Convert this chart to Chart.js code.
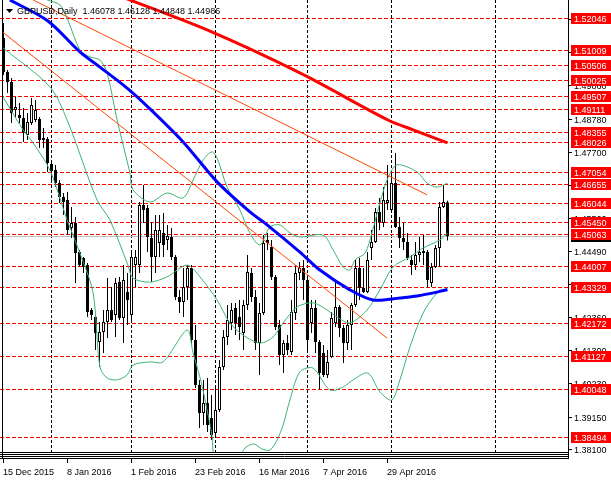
<!DOCTYPE html>
<html>
<head>
<meta charset="utf-8">
<script src="https://cdn.jsdelivr.net/npm/chart.js@4.4.1/dist/chart.umd.min.js"></script>
<style>
    html, body { margin: 0; padding: 0; background: #fff; }
    #wrap { width: 611px; height: 482px; }
</style>
</head>
<body>
<div id="wrap"><canvas id="chart" width="611" height="482"></canvas></div>
<script>
// GBPUSD daily candles, one entry per bar (bar 0 = 15 Dec 2015)
var open = [
    1.51390,1.50291,1.49968,1.49063,1.48901,1.48804,1.48255,1.48643,1.48740,1.48772,
    1.48093,1.48126,1.47318,1.47124,1.46703,1.46251,1.46154,1.45249,1.45411,1.44473,
    1.44279,1.44053,1.42599,1.42373,1.41565,1.41888,1.42211,1.42599,1.42437,1.43504,
    1.42340,1.43181,1.42437,1.44053,1.44053,1.45992,1.45895,1.44926,1.44312,1.44764,
    1.45087,1.44861,1.44958,1.44312,1.43019,1.42857,1.43342,1.43956,1.41629,1.40175,
    1.39270,1.39593,1.39108,1.38623,1.39367,1.40757,1.41726,1.42179,1.42663,1.42373,
    1.41855,1.42760,1.43795,1.43019,1.41532,1.42502,1.44861,1.44635,1.43665,1.42114,
    1.41144,1.41532,1.41241,1.42502,1.43795,1.43956,1.43568,1.42179,1.42663,1.41565,
    1.41209,1.40498,1.41080,1.42179,1.42696,1.42017,1.41532,1.42114,1.42760,1.43956,
    1.43310,1.43181,1.44603,1.44797,1.45766,1.45411,1.46057,1.45831,1.46703,1.45281,
    1.44926,1.44797,1.44215,1.44053,1.44376,1.44441,1.44473,1.43471,1.43989,1.44603,
    1.45928,1.46078];
var high = [
    1.51875,1.50356,1.50097,1.49483,1.49289,1.49127,1.48966,1.49451,1.49386,1.48837,
    1.48481,1.48190,1.47447,1.47285,1.46800,1.46380,1.46413,1.45928,1.45605,1.44538,
    1.44312,1.44118,1.42663,1.42437,1.42211,1.42599,1.43633,1.43342,1.43633,1.43665,
    1.44053,1.43795,1.44441,1.44538,1.46089,1.46639,1.45992,1.45443,1.45669,1.45669,
    1.45734,1.45346,1.45249,1.44376,1.43245,1.43956,1.44053,1.44053,1.42114,1.40336,
    1.40336,1.40401,1.39852,1.40175,1.40983,1.41952,1.42760,1.42825,1.42825,1.42922,
    1.42922,1.44376,1.43956,1.43245,1.42825,1.45023,1.45087,1.44861,1.43730,1.42276,
    1.41629,1.41791,1.42922,1.44053,1.44150,1.44215,1.43665,1.42922,1.42922,1.41629,
    1.41468,1.41306,1.42534,1.43504,1.42760,1.42114,1.42276,1.42825,1.44215,1.44279,
    1.43956,1.44473,1.45184,1.45895,1.46219,1.46574,1.47285,1.47027,1.47673,1.45605,
    1.45411,1.45087,1.44376,1.44797,1.44958,1.45023,1.44538,1.44118,1.44700,1.46089,
    1.46639,1.46128];
var low = [
    1.50194,1.49612,1.48643,1.48837,1.48643,1.48029,1.48093,1.48578,1.48675,1.47835,
    1.47835,1.47059,1.46703,1.46574,1.46057,1.45669,1.45023,1.44926,1.43471,1.43989,
    1.43795,1.42373,1.42276,1.41306,1.40757,1.41209,1.41694,1.42211,1.41726,1.42276,
    1.41532,1.42114,1.42211,1.43342,1.43795,1.45411,1.44473,1.43504,1.43795,1.44312,
    1.44312,1.44538,1.44215,1.42922,1.42502,1.42373,1.42922,1.41468,1.40078,1.38785,
    1.38882,1.38656,1.38397,1.38526,1.39302,1.40660,1.41468,1.41952,1.41791,1.41629,
    1.41306,1.42599,1.42857,1.41306,1.40498,1.42437,1.44538,1.43568,1.41952,1.40821,
    1.40563,1.41144,1.41144,1.42276,1.43568,1.42922,1.41209,1.41855,1.41209,1.40013,
    1.40433,1.40401,1.41047,1.42049,1.41726,1.40886,1.41306,1.41306,1.42696,1.42922,
    1.43148,1.43148,1.44215,1.44764,1.45184,1.45281,1.45831,1.45734,1.45249,1.44603,
    1.44538,1.44215,1.43730,1.43892,1.44150,1.44053,1.43342,1.43342,1.43956,1.43989,
    1.45895,1.44848];
var close = [
    1.50291,1.49968,1.48966,1.49160,1.48804,1.48319,1.48675,1.49224,1.49063,1.48093,
    1.48158,1.47350,1.47091,1.46703,1.46251,1.46089,1.45184,1.45411,1.44441,1.44053,
    1.43989,1.42534,1.42437,1.41855,1.41888,1.42211,1.42599,1.42276,1.43471,1.42340,
    1.43568,1.42922,1.44312,1.44312,1.45992,1.45831,1.44958,1.44312,1.45184,1.45184,
    1.44700,1.44990,1.44312,1.43019,1.42857,1.43342,1.43956,1.41629,1.40175,1.39270,
    1.39593,1.38882,1.38559,1.39367,1.40757,1.41726,1.42276,1.42599,1.42179,1.42049,
    1.42760,1.43827,1.43019,1.41532,1.42502,1.44764,1.44764,1.43665,1.42049,1.41144,
    1.41532,1.41306,1.42534,1.43795,1.43956,1.43568,1.41629,1.42663,1.41565,1.40563,
    1.40498,1.40918,1.42340,1.42696,1.42017,1.41532,1.42114,1.42760,1.43956,1.43310,
    1.43181,1.44215,1.44797,1.45766,1.45443,1.46154,1.46154,1.46703,1.45281,1.44926,
    1.44797,1.44279,1.44053,1.44376,1.44473,1.44506,1.43568,1.43989,1.44603,1.45928,
    1.46089,1.44986];

// indicator lines, [bar, price]
var bandUpper = [[10.9,1.5262],[14.1,1.5246],[16.1,1.5197],[19.1,1.5100],[21.6,1.5078],[24.1,1.5068],
    [25.9,1.5026],[28.4,1.4874],[31.6,1.4703],[32.4,1.4648],[36.6,1.4609],[40.9,1.4638],[44.9,1.4622],
    [47.4,1.4680],[49.9,1.4745],[52.1,1.4771],[53.4,1.4751],[55.9,1.4657],[59.1,1.4583],[61.6,1.4509],
    [64.1,1.4470],[66.6,1.4528],[69.1,1.4535],[71.6,1.4509],[74.1,1.4496],[79.9,1.4502],[82.4,1.4454],
    [84.9,1.4399],[86.6,1.4389],[87.9,1.4422],[90.4,1.4444],[92.1,1.4509],[94.1,1.4606],[96.1,1.4687],
    [98.4,1.4729],[103.4,1.4706],[105.9,1.4670],[108.4,1.4657],[111,1.4670]];
var bandMiddle = [[-0.1,1.5107],[11.6,1.4981],[15.9,1.4874],[23.4,1.4615],[26.6,1.4551],[31.1,1.4405],
    [32.4,1.4363],[36.6,1.4350],[40.9,1.4367],[45.9,1.4405],[49.1,1.4367],[53.4,1.4292],[56.6,1.4218],
    [59.9,1.4179],[64.1,1.4153],[67.4,1.4173],[69.9,1.4218],[73.4,1.4270],[77.4,1.4283],[80.9,1.4260],
    [83.4,1.4237],[86.6,1.4218],[90.9,1.4260],[94.1,1.4325],[97.4,1.4399],[101.6,1.4431],[104.9,1.4460],
    [109.1,1.4486],[111,1.4509]];
var bandLower = [[-0.1,1.4948],[4.9,1.4842],[7.4,1.4800],[11.6,1.4712],[15.9,1.4551],[19.1,1.4444],
    [22.4,1.4315],[24.1,1.4076],[25.9,1.4040],[28.4,1.4034],[30.9,1.4050],[32.4,1.4082],[36.6,1.4092],
    [39.9,1.4092],[45.9,1.4195],[47.4,1.4121],[49.1,1.4043],[50.4,1.3969],[52.1,1.3856],[53.1,1.3775],
    [58.6,1.3782],[60.4,1.3814],[62.6,1.3827],[64.6,1.3811],[66.6,1.3807],[68.4,1.3840],[69.9,1.3888],
    [71.6,1.3969],[74.1,1.4060],[77.4,1.4072],[81.6,1.4001],[84.9,1.4011],[87.4,1.4034],[91.1,1.4056],
    [94.1,1.3995],[97.1,1.3969],[99.1,1.4034],[101.6,1.4140],[104.9,1.4250],[108.4,1.4315],[111,1.4331]];
var maFast = [[1.6,1.5262],[11.1,1.5194],[19.1,1.5094],[24.1,1.5045],[30.9,1.4977],[36.6,1.4910],
    [44.9,1.4803],[53.4,1.4674],[61.6,1.4577],[65.9,1.4535],[74.1,1.4447],[79.1,1.4389],[86.6,1.4325],
    [92.4,1.4292],[99.1,1.4299],[103.4,1.4305],[111,1.4325]];
var maSlow = [[30.4,1.5268],[50.9,1.5165],[74.1,1.5026],[96.1,1.4874],[102.4,1.4842],[111,1.4800]];
var trendA = [[-0.9,1.5165],[95.9,1.4169]];
var trendB = [[7.4,1.5262],[105.9,1.4632]];

var levels = [1.52046,1.51009,1.50506,1.50025,1.49507,1.49111,1.48355,1.48026,1.47054,1.46655,
    1.46044,1.45450,1.45063,1.44007,1.43329,1.42172,1.41127,1.40048,1.38494];
var priceTicks = [1.52010,1.50940,1.49860,1.48780,1.47700,1.46630,1.45560,1.44490,1.43430,
    1.42360,1.41300,1.40230,1.39150,1.38100];
var dateLabels = ['15 Dec 2015','8 Jan 2016','1 Feb 2016','23 Feb 2016','16 Mar 2016','7 Apr 2016','29 Apr 2016'];
var dateBars = [0,16,32,48,64,80,96];
var monthBars = [12,32,53,76,97,123];
var lastPrice = 1.44986;
var title = 'GBPUSD,Daily  1.46078 1.46128 1.44848 1.44986';

var FONT = '9px "Liberation Sans", Arial, sans-serif';

function pts(arr) {
    return arr.map(function (p) { return {x: p[0], y: p[1]}; });
}
function line(arr, color, width, order) {
    return {
        type: 'line', data: pts(arr), borderColor: color, borderWidth: width,
        pointRadius: 0, tension: 0.3, fill: false, order: order
    };
}

var mt4 = {
    id: 'mt4',
    beforeDatasetsDraw: function (chart) {
        var ctx = chart.ctx, a = chart.chartArea;
        var xs = chart.scales.x, ys = chart.scales.y;
        ctx.save();
        ctx.lineWidth = 1;
        // month grid
        ctx.strokeStyle = '#000';
        ctx.setLineDash([3, 2]);
        monthBars.forEach(function (b) {
            var x = Math.floor(xs.getPixelForValue(b)) + 0.5;
            ctx.beginPath(); ctx.moveTo(x, a.top); ctx.lineTo(x, a.bottom); ctx.stroke();
        });
        // horizontal levels
        ctx.strokeStyle = '#ff0000';
        ctx.setLineDash([4, 2]);
        levels.forEach(function (v) {
            var y = Math.round(ys.getPixelForValue(v)) + 0.5;
            ctx.beginPath(); ctx.moveTo(0, y); ctx.lineTo(a.right, y); ctx.stroke();
        });
        // bid line
        ctx.setLineDash([]);
        ctx.strokeStyle = '#c0c0c0';
        var yb = Math.round(ys.getPixelForValue(lastPrice)) + 0.5;
        ctx.beginPath(); ctx.moveTo(0, yb); ctx.lineTo(a.right, yb); ctx.stroke();
        ctx.restore();
    },
    afterDraw: function (chart) {
        var ctx = chart.ctx, a = chart.chartArea;
        var xs = chart.scales.x, ys = chart.scales.y;
        ctx.save();
        ctx.lineWidth = 1;
        ctx.strokeStyle = '#000';
        // frame
        ctx.beginPath();
        ctx.moveTo(2.5, 0); ctx.lineTo(2.5, 459);
        ctx.moveTo(568.5, 0); ctx.lineTo(568.5, 459);
        [452, 454, 456, 458].forEach(function (y) {
            ctx.moveTo(0, y + 0.5); ctx.lineTo(569, y + 0.5);
        });
        ctx.stroke();

        ctx.font = FONT;
        ctx.textBaseline = 'alphabetic';
        // price ticks
        ctx.fillStyle = '#000';
        priceTicks.forEach(function (v) {
            var y = Math.round(ys.getPixelForValue(v));
            ctx.fillRect(569, y, 3, 1);
            ctx.fillText(v.toFixed(5), 574, y + 4);
        });
        // bid label
        var yb = Math.round(ys.getPixelForValue(lastPrice));
        ctx.fillStyle = '#000';
        ctx.fillRect(571, yb - 5, 40, 11);
        ctx.fillStyle = '#fff';
        ctx.fillText(lastPrice.toFixed(5), 574, yb + 4);
        // level labels
        levels.forEach(function (v) {
            var y = Math.round(ys.getPixelForValue(v));
            ctx.fillStyle = '#ff0000';
            ctx.fillRect(571, y - 5, 40, 11);
            ctx.fillStyle = '#fff';
            ctx.fillText(v.toFixed(5), 574, y + 4);
        });
        // date labels
        ctx.fillStyle = '#000';
        dateBars.forEach(function (b, i) {
            var x = Math.floor(xs.getPixelForValue(b));
            ctx.fillRect(x, 459, 1, 4);
            ctx.fillText(dateLabels[i], x, 475);
        });
        // title
        ctx.beginPath();
        ctx.moveTo(6, 9); ctx.lineTo(13, 9); ctx.lineTo(9.5, 13); ctx.closePath();
        ctx.fill();
        ctx.fillText(title, 17, 14);
        ctx.restore();
    }
};

var bodies = open.map(function (o, i) { return {x: i, y: [o, close[i]]}; });
var wicks = open.map(function (o, i) { return {x: i, y: [low[i], high[i]]}; });

new Chart(document.getElementById('chart'), {
    type: 'bar',
    data: {
        datasets: [
            {
                data: wicks, backgroundColor: '#000', barThickness: 1,
                grouped: false, order: 6, inflateAmount: 0
            },
            {
                data: bodies, barThickness: 3, grouped: false, order: 5,
                borderWidth: 1, borderColor: '#000', borderSkipped: false, inflateAmount: 0,
                minBarLength: 1,
                backgroundColor: function (c) {
                    var i = c.dataIndex;
                    return close[i] >= open[i] ? '#fff' : '#000';
                }
            },
            line(bandUpper, '#3cb371', 1, 4),
            line(bandMiddle, '#3cb371', 1, 4),
            line(bandLower, '#3cb371', 1, 4),
            line(maSlow, '#ff0000', 3, 3),
            line(maFast, '#0000ff', 3, 3),
            line(trendA, '#ff4500', 1, 2),
            line(trendB, '#ff4500', 1, 2)
        ]
    },
    options: {
        responsive: false,
        animation: false,
        layout: {padding: {left: 2, right: 43, top: 0, bottom: 30}},
        scales: {
            x: {type: 'linear', min: -0.375, max: 141.125, offset: false, display: false},
            y: {type: 'linear', min: 1.38009, max: 1.52618, display: false}
        },
        plugins: {legend: {display: false}, tooltip: {enabled: false}}
    },
    plugins: [mt4]
});
</script>
</body>
</html>
